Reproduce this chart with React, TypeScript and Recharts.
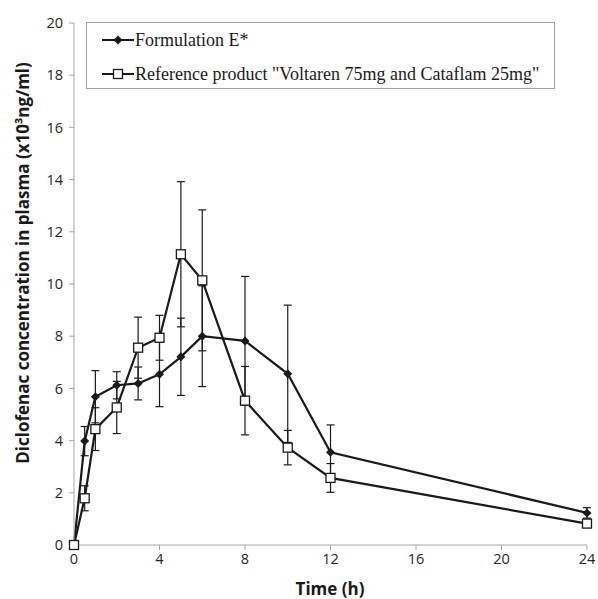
import React from "react";
import { LineChart, Line, XAxis, YAxis, ErrorBar } from "recharts";

const times = [0, 0.5, 1, 2, 3, 4, 5, 6, 8, 10, 12, 24];
const formulationE = [0, 3.98, 5.68, 6.12, 6.19, 6.54, 7.21, 8.0, 7.82, 6.56, 3.55, 1.23];
const formulationESd = [0, 0.56, 1.0, 0.52, 0.63, 1.24, 1.48, 1.93, 2.47, 2.63, 1.05, 0.2];
const reference = [0, 1.79, 4.44, 5.27, 7.56, 7.94, 11.14, 10.14, 5.53, 3.73, 2.57, 0.82];
const referenceSd = [0, 0.48, 0.82, 1.0, 1.17, 0.86, 2.78, 2.7, 1.31, 0.66, 0.55, 0.1];
const xTicks = [0, 4, 8, 12, 16, 20, 24];
const yTicks = [0, 2, 4, 6, 8, 10, 12, 14, 16, 18, 20];
const seriesNames = ["Formulation E*", 'Reference product "Voltaren 75mg and Cataflam 25mg"'];

const data = times.map((t, i) => ({
  time: t,
  e: formulationE[i],
  eSd: formulationESd[i],
  ref: reference[i],
  refSd: referenceSd[i],
}));

const INK = "#1a1a1a";
const AXIS = "#a6a6a6";
const tickFont = { fontFamily: "'Open Sans', sans-serif", fontSize: 14.5, fill: "#262626" };
const labelFont = { fontFamily: "'Open Sans', sans-serif", fontSize: 17, fontWeight: 700, fill: "#1a1a1a" };

function Diamond(props: any) {
  const { cx, cy, index } = props;
  if (cx == null || cy == null) return null;
  const r = 4.5;
  return (
    <polygon
      key={"d" + index}
      points={`${cx},${cy - r} ${cx + r},${cy} ${cx},${cy + r} ${cx - r},${cy}`}
      fill={INK}
    />
  );
}

function Square(props: any) {
  const { cx, cy, index } = props;
  if (cx == null || cy == null) return null;
  return (
    <rect key={"s" + index} x={cx - 4.5} y={cy - 4.5} width={9} height={9} fill="#fff" stroke={INK} strokeWidth={1.3} />
  );
}

function LegendBox() {
  const row = (marker: React.ReactNode, text: string) => (
    <div style={{ display: "flex", alignItems: "center", height: 34 }}>
      <svg width={32} height={12} style={{ marginLeft: 15, marginRight: 1, flexShrink: 0 }}>
        <line x1={0} y1={6} x2={32} y2={6} stroke={INK} strokeWidth={2} />
        {marker}
      </svg>
      <span style={{ fontFamily: "'Liberation Serif', serif", fontSize: 18, color: "#1a1a1a", whiteSpace: "nowrap" }}>
        {text}
      </span>
    </div>
  );
  return (
    <div
      style={{
        position: "absolute",
        left: 86,
        top: 22,
        width: 467,
        height: 65,
        border: "1px solid #a0a0a0",
        background: "#fff",
      }}
    >
      {row(<polygon points="16,1.5 20.5,6 16,10.5 11.5,6" fill={INK} />, seriesNames[0])}
      {row(<rect x={11.5} y={1.5} width={9} height={9} fill="#fff" stroke={INK} strokeWidth={1.3} />, seriesNames[1])}
    </div>
  );
}

export default function App() {
  return (
    <div style={{ position: "fixed", left: 0, top: 0, width: 598, height: 599, background: "#fff" }}>
      <LineChart
        width={598}
        height={599}
        data={data}
        margin={{ top: 23, right: 11, left: 0, bottom: 0 }}
      >
        <XAxis
          dataKey="time"
          type="number"
          domain={[0, 24]}
          ticks={xTicks}
          stroke={AXIS}
          tickSize={5}
          tickMargin={4}
          tick={tickFont}
          height={54}
          label={{
            content: () => (
              <text x={330} y={588} textAnchor="middle" dominantBaseline="central" style={labelFont}>
                Time (h)
              </text>
            ),
          }}
        />
        <YAxis
          type="number"
          domain={[0, 20]}
          ticks={yTicks}
          stroke={AXIS}
          tickSize={5}
          tickMargin={6}
          tick={tickFont}
          width={74}
          label={{
            content: () => (
              <text
                x={22}
                y={263}
                transform="rotate(-90 22 263)"
                textAnchor="middle"
                dominantBaseline="central"
                style={labelFont}
              >
                Diclofenac concentration in plasma (x10³ng/ml)
              </text>
            ),
          }}
        />
        <Line
          dataKey="e"
          name={seriesNames[0]}
          stroke={INK}
          strokeWidth={2.2}
          dot={Diamond}
          isAnimationActive={false}
        >
          <ErrorBar dataKey="eSd" direction="y" width={4} stroke={INK} strokeWidth={1.2} />
        </Line>
        <Line
          dataKey="ref"
          name={seriesNames[1]}
          stroke={INK}
          strokeWidth={2.2}
          dot={Square}
          isAnimationActive={false}
        >
          <ErrorBar dataKey="refSd" direction="y" width={4} stroke={INK} strokeWidth={1.2} />
        </Line>
      </LineChart>
      <LegendBox />
    </div>
  );
}
